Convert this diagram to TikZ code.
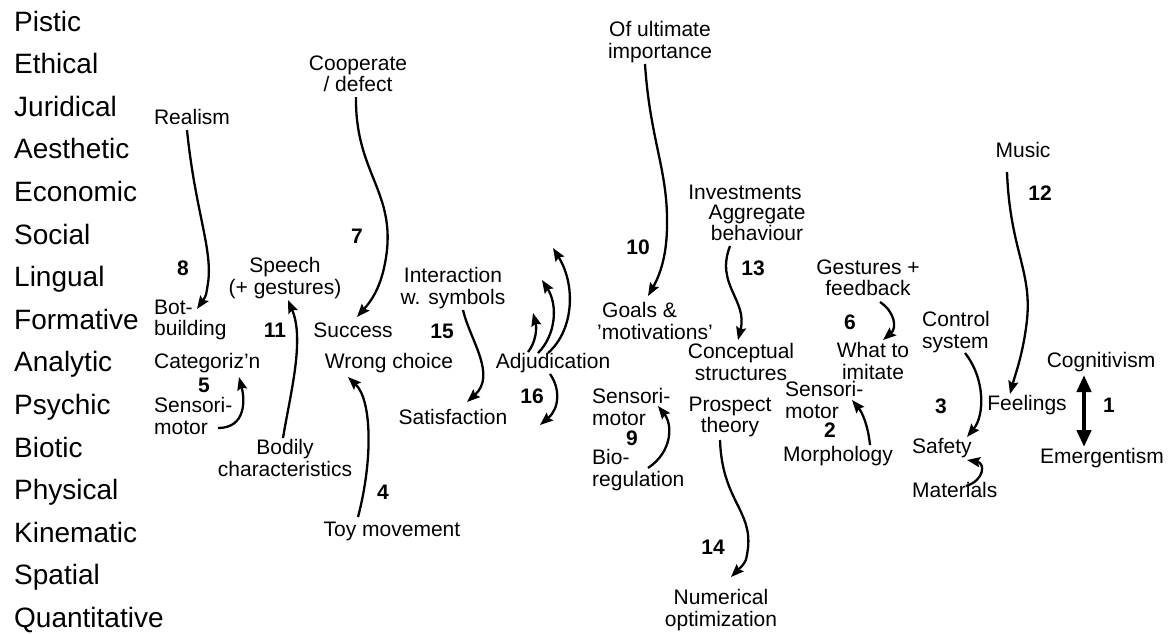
\documentclass[tikz,border=0pt]{standalone}
\usepackage{fontspec}
\setmainfont{Liberation Sans}
\usetikzlibrary{arrows.meta}
\begin{document}
\begin{tikzpicture}[x=1pt,y=-1pt,
  lvl/.style={anchor=base west,inner sep=0pt,font=\fontsize{28}{30}\selectfont},
  lbl/.style={inner sep=0pt,align=center,font=\fontsize{21}{21.5}\selectfont},
  lbll/.style={inner sep=0pt,anchor=west,align=left,font=\fontsize{21}{21.5}\selectfont},
  num/.style={inner sep=0pt,font=\fontsize{21}{21.5}\selectfont\bfseries},
  arr/.style={line width=2.3pt,-{Stealth[length=13pt,width=10pt,inset=2pt]}},
  bigarr/.style={line width=4.8pt,{Stealth[length=17pt,width=14pt,inset=0pt]}-{Stealth[length=17pt,width=14pt,inset=0pt]}}
]
\useasboundingbox (0,0) rectangle (1172,633);
% level labels
\node[lvl] (l1) at (14,31) {Pistic};
\node[lvl] (l2) at (14,73.6) {Ethical};
\node[lvl] (l3) at (14,116.2) {Juridical};
\node[lvl] (l4) at (14,158.8) {Aesthetic};
\node[lvl] (l5) at (14,201.4) {Economic};
\node[lvl] (l6) at (14,244) {Social};
\node[lvl] (l7) at (14,286.6) {Lingual};
\node[lvl] (l8) at (14,329.2) {Formative};
\node[lvl] (l9) at (14,371.8) {Analytic};
\node[lvl] (l10) at (14,414.4) {Psychic};
\node[lvl] (l11) at (14,457) {Biotic};
\node[lvl] (l12) at (14,499.6) {Physical};
\node[lvl] (l13) at (14,542.2) {Kinematic};
\node[lvl] (l14) at (14,584.8) {Spatial};
\node[lvl] (l15) at (14,627.4) {Quantitative};
% inner labels
\node[lbl] (realism) at (192,117) {Realism};
\node[num] (n8) at (183,268) {8};
\node[lbll] (botbuild) at (154,320) {Bot-\\building};
\node[lbll] (categ) at (154,363) {Categoriz'n};
\node[num] (n5) at (204,385) {5};
\node[lbll] (sensA) at (154,416) {Sensori-\\motor};
\node[num] (n11) at (275,330) {11};
\node[lbl] (speech) at (285,278) {Speech\\(+ gestures)};
\node[lbl] (bodily) at (285,458) {Bodily\\characteristics};
\node[num] (n7) at (357,236) {7};
\node[lbl] (coop) at (358,74) {Cooperate\\/ defect};
\node[lbl] (success) at (353,330) {Success};
\node[lbl] (wrong) at (389,363) {Wrong choice};
\node[num] (n4) at (383,492) {4};
\node[lbl] (toy) at (392,531) {Toy movement};
\node[lbl] (interact) at (453,288) {Interaction\\w. symbols};
\node[num] (n15) at (442,331) {15};
\node[lbl] (satisf) at (453,417) {Satisfaction};
\node[lbl] (adjud) at (553,363) {Adjudication};
\node[num] (n16) at (532,396) {16};
\node[num] (n10) at (638,247) {10};
\node[lbl] (ofult) at (660,42) {Of ultimate\\importance};
\node[lbll] (goals) at (597,321) {\hspace*{5pt}Goals \&\\'motivations'};
\node[lbll] (sensB) at (592,407) {Sensori-\\motor};
\node[num] (n9) at (632,438) {9};
\node[lbll] (bioreg) at (592,470) {Bio-\\regulation};
\node[lbl] (invest) at (745,192) {Investments};
\node[lbl] (aggreg) at (757,223) {Aggregate\\behaviour};
\node[num] (n13) at (753,268) {13};
\node[lbl] (concept) at (741,362) {Conceptual\\structures};
\node[lbl] (prospect) at (730,417) {Prospect\\theory};
\node[num] (n14) at (713,547) {14};
\node[lbl] (numopt) at (721,610) {Numerical\\optimization};
\node[lbl] (gestures) at (868,278) {Gestures +\\feedback};
\node[num] (n6) at (850,322) {6};
\node[lbl] (whatto) at (873,361) {What to\\imitate};
\node[lbll] (sensC) at (785,400) {Sensori-\\motor};
\node[num] (n2) at (830,430) {2};
\node[lbl] (morph) at (838,456) {Morphology};
\node[lbll] (control) at (922,332) {Control\\system};
\node[num] (n3) at (941,406) {3};
\node[lbl] (feelings) at (1027,405) {Feelings};
\node[lbll] (safety) at (912,448) {Safety};
\node[lbll] (materials) at (912,490) {Materials};
\node[lbl] (music) at (1023,150) {Music};
\node[num] (n12) at (1040,193) {12};
\node[lbl] (cogn) at (1101,362) {Cognitivism};
\node[num] (n1) at (1109,405) {1};
\node[lbl] (emerg) at (1102,458) {Emergentism};
% free ends
\coordinate (adjA) at (533,313);
\coordinate (adjB) at (542,280);
\coordinate (adjC) at (553,248);
\coordinate (adjD) at (540,425);
% arrows
\draw[arr] ([shift={(-5,13)}]realism.center) .. controls (195,210) and (213,250) .. (208,283) .. controls (206,296) .. ([shift={(43,-11)}]botbuild.west);
\draw[arr] ([shift={(-2,23)}]coop.center) .. controls (355,170) and (393,190) .. (387,250) .. controls (383,285) and (372,300) .. ([shift={(4,-13)}]success.center);
\draw[arr] ([shift={(-2,-20)}]bodily.center) .. controls (290,395) and (305,340) .. ([shift={(3,22)}]speech.center);
\draw[arr] ([shift={(64,12)}]sensA.west) .. controls (246,428) and (245,400) .. ([shift={(85,14)}]categ.west);
\draw[arr] ([shift={(-34,-14)}]toy.center) .. controls (373,460) and (372,400) .. ([shift={(-41,14)}]wrong.center);
\draw[arr] ([shift={(10,22)}]interact.center) .. controls (470,340) and (497,375) .. ([shift={(14,-15)}]satisf.center);
\draw[arr] ([shift={(-25,-11)}]adjud.center) .. controls (536,342) and (537,328) .. (adjA);
\draw[arr] ([shift={(-15,-10)}]adjud.center) .. controls (556,335) and (558,305) .. (adjB);
\draw[arr] ([shift={(-5,-10)}]adjud.center) .. controls (574,330) and (576,285) .. (adjC);
\draw[arr] ([shift={(-3,11)}]adjud.center) .. controls (560,388) and (560,408) .. (adjD);
\draw[arr] ([shift={(-15,22)}]ofult.center) .. controls (650,140) and (668,170) .. (667,225) .. controls (667,255) and (660,275) .. ([shift={(51,-25)}]goals.west);
\draw[arr] ([shift={(56,-2)}]bioreg.west) .. controls (672,452) and (673,425) .. ([shift={(66,-1)}]sensB.west);
\draw[arr] ([shift={(-27,23)}]aggreg.center) .. controls (715,285) and (748,300) .. ([shift={(-3,-22)}]concept.center);
\draw[arr] ([shift={(-10,23)}]prospect.center) .. controls (722,500) and (752,510) .. (748,548) .. controls (746,562) .. ([shift={(10,-33)}]numopt.center);
\draw[arr] ([shift={(12,24)}]gestures.center) .. controls (895,312) and (897,328) .. ([shift={(10,-21)}]whatto.center);
\draw[arr] ([shift={(32,-11)}]morph.center) .. controls (868,425) and (862,412) .. ([shift={(67,0)}]sensC.west);
\draw[arr] ([shift={(43,21)}]control.west) .. controls (985,378) and (985,415) .. ([shift={(55,-11)}]safety.west);
\draw[arr] ([shift={(54,-4)}]materials.west) .. controls (985,480) and (985,463) .. ([shift={(55,12)}]safety.west);
\draw[arr] ([shift={(-16,22)}]music.center) .. controls (1010,250) and (1032,270) .. (1027,320) .. controls (1023,355) and (1015,375) .. ([shift={(-17,-11)}]feelings.center);
\draw[bigarr] ([shift={(-17,13)}]cogn.center) -- ([shift={(-18,-11)}]emerg.center);
\end{tikzpicture}
\end{document}
